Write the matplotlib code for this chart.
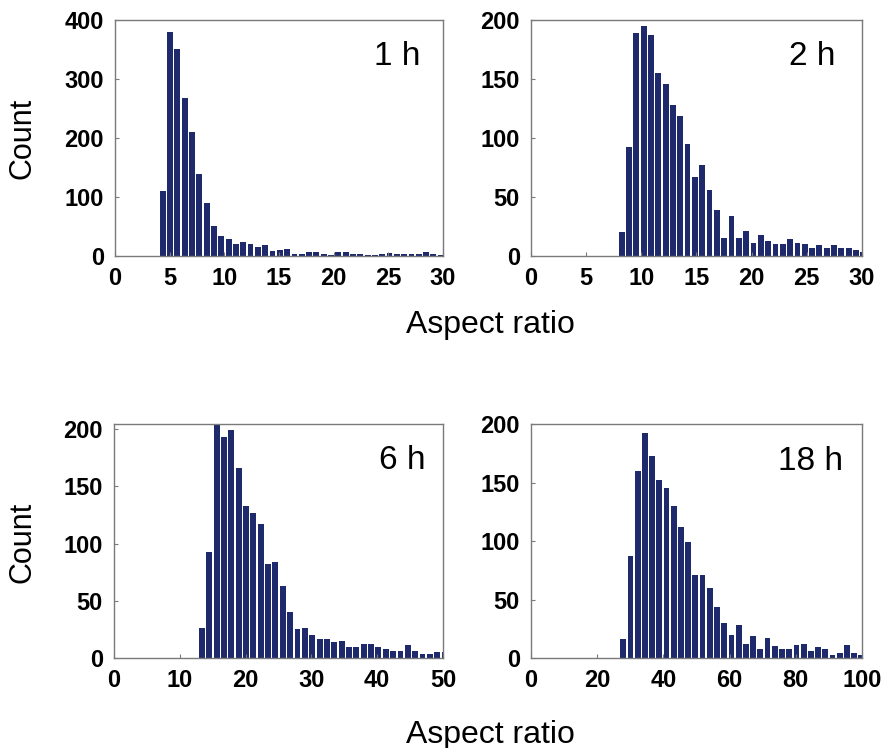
import numpy as np
import matplotlib
matplotlib.use("Agg")
import matplotlib.pyplot as plt

plt.rcParams['font.family'] = ['Liberation Sans', 'DejaVu Sans']

# aspect ratio histograms, counts per bin
counts_1h = [110, 380, 350, 267, 210, 139, 90, 50, 33, 28, 20, 23, 21, 15, 18, 9, 10, 11,
             3, 3, 6, 6, 4, 1, 7, 7, 4, 4, 2, 2, 4, 5, 4, 4, 3, 4, 6, 4, 1]
counts_2h = [20, 92, 189, 195, 187, 155, 146, 128, 119, 95, 67, 77, 56, 39, 15, 34, 15,
             21, 11, 18, 13, 10, 10, 14, 11, 10, 7, 9, 7, 9, 7, 7, 5, 3]
counts_6h = [26, 93, 205, 193, 199, 166, 133, 127, 117, 82, 84, 63, 40, 25, 26, 20, 17,
             17, 14, 15, 10, 10, 12, 12, 10, 8, 6, 6, 11, 6, 3.5, 3.5, 5, 5]
counts_18h = [16, 87, 160, 192, 173, 152, 145, 130, 112, 99, 71, 71, 60, 44, 30, 20, 28,
              12, 19, 8, 17, 10, 8, 8, 11, 12, 6, 9, 8, 3, 4, 11, 4, 3]

# first bin edge and bin width for each time point
bin_start = {'1 h': 4.1, '2 h': 7.95, '6 h': 12.9, '18 h': 27.0}
bin_width = {'1 h': 0.669, '2 h': 0.664, '6 h': 1.118, '18 h': 2.18}

panels = [
    ('1 h', counts_1h, [0.1304, 0.6578, 0.3719, 0.3155], 30, 5, 400, 100, (0.86, 0.845)),
    ('2 h', counts_2h, [0.6020, 0.6578, 0.3753, 0.3155], 30, 5, 200, 50, (0.85, 0.845)),
    ('6 h', counts_6h, [0.1293, 0.1203, 0.3730, 0.3128], 50, 10, 204.5, 50, (0.875, 0.845)),
    ('18 h', counts_18h, [0.6020, 0.1203, 0.3753, 0.3128], 100, 20, 200, 50, (0.845, 0.84)),
]

bar_color = '#1f2a6c'
spine_color = '#7a7a7a'

fig = plt.figure(figsize=(8.82, 7.48), dpi=100)

for name, counts, rect, xmax, xstep, ymax, ystep, txt in panels:
    ax = fig.add_axes(rect)
    w = bin_width[name]
    x = bin_start[name] + w * np.arange(len(counts))
    ax.bar(x, counts, width=w * 0.8, align='edge', color=bar_color, linewidth=0)
    ax.set_xlim(0, xmax)
    ax.set_ylim(0, ymax)
    ax.set_xticks(np.arange(0, xmax + 1, xstep))
    ax.set_yticks(np.arange(0, int(ymax) + 1, ystep))
    ax.tick_params(direction='in', length=3, width=0.8, color=spine_color,
                   labelsize=17, pad=8)
    for lab in ax.get_xticklabels() + ax.get_yticklabels():
        lab.set_fontweight('bold')
    for s in ax.spines.values():
        s.set_color(spine_color)
        s.set_linewidth(1.0)
    ax.text(txt[0], txt[1], name, transform=ax.transAxes, fontsize=24,
            ha='center', va='center')

fig.text(0.025, 0.815, 'Count', rotation=90, fontsize=22, ha='center', va='center')
fig.text(0.025, 0.275, 'Count', rotation=90, fontsize=22, ha='center', va='center')
fig.text(0.556, 0.565, 'Aspect ratio', fontsize=23, ha='center', va='center')
fig.text(0.556, 0.018, 'Aspect ratio', fontsize=23, ha='center', va='center')

fig.savefig('out.png', dpi=100)
